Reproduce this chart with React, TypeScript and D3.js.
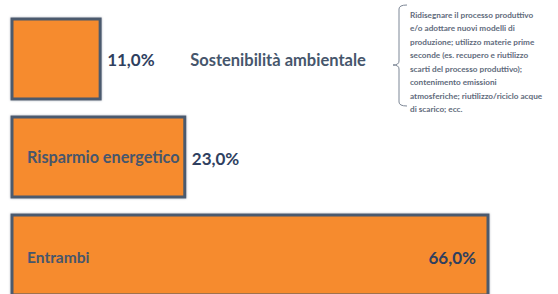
import React from 'react';
import * as d3 from 'd3';

const categories = ['Sostenibilità ambientale', 'Risparmio energetico', 'Entrambi'];
const values = [11.0, 23.0, 66.0];
const noteLines = [
  'Ridisegnare il processo produttivo',
  'e/o adottare nuovi modelli di',
  'produzione; utilizzo materie prime',
  'seconde (es. recupero e riutilizzo',
  'scarti del processo produttivo);',
  'contenimento emissioni',
  'atmosferiche; riutilizzo/riciclo acque',
  'di scarico; ecc.',
];

const W = 558;
const H = 294;
const FONT = 'Lato, "Open Sans", sans-serif';
const ORANGE = '#f68b2f';
const BORDER = '#4b5a6e';
const LABEL = '#46566c';
const VALUE = '#2f3f5f';

const fmt = (v: number) => d3.format('.1f')(v).replace('.', ',') + '%';

export default function App() {
  const x0 = 12;
  // bars are not strictly proportional in the original infographic
  const xScale = d3.scaleLinear().domain([-1.5, 66]).range([0, 476]);
  const yScale = d3
    .scaleBand<string>()
    .domain(categories)
    .range([19, 295])
    .paddingInner(0.184)
    .paddingOuter(0);
  const bh = yScale.bandwidth();

  return (
    <svg
      width={W}
      height={H}
      style={{ position: 'absolute', left: 0, top: 0, display: 'block', background: '#fff' }}
    >
      <defs>
        <filter id="sh" x="-5%" y="-5%" width="110%" height="110%">
          <feDropShadow dx="0" dy="0" stdDeviation="0.8" floodColor="#9aa3b0" floodOpacity="0.8" />
        </filter>
      </defs>
      {categories.map((c, i) => {
        const w = xScale(values[i]);
        const y = yScale(c)!;
        const cy = y + bh / 2;
        const wide = w > 400;
        const labelInside = w > 170;
        return (
          <g key={c}>
            <rect
              x={x0}
              y={y}
              width={w}
              height={bh}
              fill={ORANGE}
              stroke={BORDER}
              strokeWidth={3}
              filter="url(#sh)"
            />
            {labelInside && (
              <text
                x={x0 + 15}
                y={cy + (wide ? 2 : -1)}
                dominantBaseline="central"
                fontFamily={FONT}
                fontWeight="bold"
                fontSize={wide ? 15.5 : 16.2}
                fill={LABEL}
              >
                {c}
              </text>
            )}
            <text
              x={wide ? x0 + w - 12 : x0 + w + 7}
              y={cy + (wide ? 2 : 1)}
              textAnchor={wide ? 'end' : 'start'}
              dominantBaseline="central"
              fontFamily={FONT}
              fontWeight="bold"
              fontSize={17}
              fill={VALUE}
            >
              {fmt(values[i])}
            </text>
            {!labelInside && (
              <text
                x={x0 + w + 90}
                y={cy + 1}
                dominantBaseline="central"
                fontFamily={FONT}
                fontWeight="bold"
                fontSize={16.5}
                fill={LABEL}
              >
                {c}
              </text>
            )}
          </g>
        );
      })}
      <path
        d="M407,5 Q399,5 399,9 L399,61 Q399,65 393,65 Q399,65 399,69 L399,102 Q399,106 407,106"
        fill="none"
        stroke="#7d8796"
        strokeWidth={1}
      />
      {noteLines.map((t, i) => (
        <text
          key={i}
          x={410}
          y={17.5 + i * 13.5}
          fontFamily={FONT}
          fontWeight="bold"
          fontSize={8.2}
          fill="#5f6b7c"
        >
          {t}
        </text>
      ))}
    </svg>
  );
}
